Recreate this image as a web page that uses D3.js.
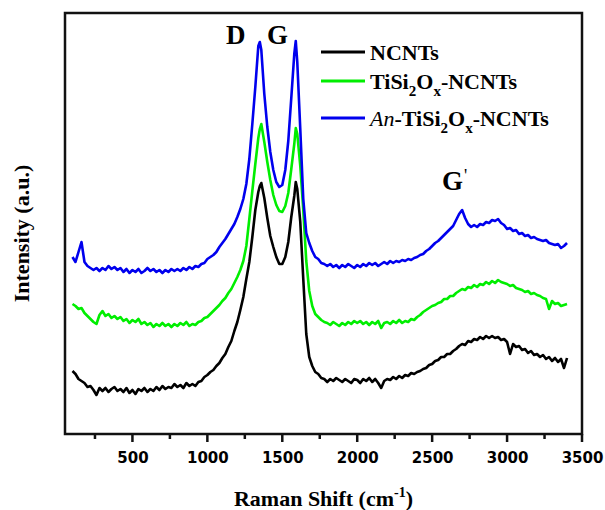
<!DOCTYPE html>
<html>
<head>
<meta charset="utf-8">
<script src="https://cdn.jsdelivr.net/npm/d3@7/dist/d3.min.js"></script>
<style>
  body { margin: 0; background: #fff; }
</style>
</head>
<body>
<svg id="chart" width="605" height="510"></svg>
<script>
// Raman shift (cm-1), shared by the three spectra
const shift = [100,120,140,160,180, 200,220,240,260,280,
  300,320,340,360,380, 400,420,440,460,480,
  500,520,540,560,580, 600,620,640,660,680,
  700,720,740,760,780, 800,820,840,860,880,
  900,920,940,960,980, 1000,1020,1040,1060,1080,
  1100,1120,1140,1160,1180, 1200,1220,1240,1260,1280,
  1300,1320,1340,1350,1360,1380, 1400,1420,1440,1460,1480,
  1500,1520,1540,1560,1580,1590, 1600,1620,1640,1660,1680,
  1700,1720,1740,1760,1780, 1800,1820,1840,1860,1880,
  1900,1920,1940,1960,1980, 2000,2020,2040,2060,2080,
  2100,2120,2140,2160,2180, 2200,2220,2240,2260,2280,
  2300,2320,2340,2360,2380, 2400,2420,2440,2460,2480,
  2500,2520,2540,2560,2580, 2600,2620,2640,2660,2680,
  2700,2720,2740,2760,2780, 2800,2820,2840,2860,2880,
  2900,2920,2940,2960,2980, 3000,3020,3040,3060,3080,
  3100,3120,3140,3160,3180, 3200,3220,3240,3260,3280,
  3300,3320,3340,3360,3380, 3400];

// intensities (a.u., curves offset as in the figure)
const ncnts = [63,60,55,53,51, 47,48,44,39,46,
  43,46,42,45,47, 43,45,42,46,41,
  44,40,45,43,46, 42,45,43,47,44,
  48,45,47,46,50, 47,49,46,51,48,
  50,48,52,53,57, 59,62,64,68,71,
  76,80,87,93,103, 112,124,137,155,172,
  197,224,242,248,251,236, 216,198,187,177,170,
  170,177,192,217,238,252, 245,212,155,100,77,
  68,62,60,56,55, 52,55,53,56,54,
  52,55,53,51,55, 54,51,55,53,56,
  52,55,51,46,53, 55,54,57,55,58,
  56,59,58,61,60, 62,63,65,66,69,
  70,73,74,77,77, 80,80,83,85,88,
  90,89,93,92,95, 94,97,95,98,96,
  98,96,97,94,95, 92,80,90,87,88,
  84,85,81,83,79, 80,77,79,75,77,
  73,76,72,75,66, 76];

const tisi = [130,128,125,126,121, 118,115,112,110,119,
  123,118,120,116,118, 115,117,113,115,111,
  114,112,115,110,112, 109,111,107,110,108,
  111,108,110,107,110, 108,111,109,112,108,
  110,109,112,113,116, 117,120,123,126,129,
  133,136,141,145,151, 157,164,173,188,215,
  243,270,296,305,310,292, 272,254,239,229,223,
  222,228,241,265,290,306, 300,268,224,173,143,
  128,120,117,114,112, 111,109,112,110,108,
  111,109,112,110,113, 111,113,110,112,109,
  112,110,113,106,111, 112,110,113,111,114,
  111,113,112,115,114, 117,119,122,124,126,
  128,129,131,132,135, 135,138,138,141,143,
  145,144,147,146,149, 147,150,149,152,150,
  153,151,154,152,151, 150,148,149,146,145,
  144,142,143,140,141, 139,138,136,135,125,
  133,130,131,128,129, 130];

const anTisi = [177,172,182,192,172, 168,166,164,166,163,
  166,164,168,165,167, 164,166,162,165,161,
  164,162,165,161,163, 166,163,165,162,164,
  161,164,162,165,163, 165,163,166,164,167,
  165,168,167,170,171, 175,177,179,182,187,
  191,195,200,205,210, 217,225,235,250,275,
  310,347,388,392,384,340, 307,282,264,252,247,
  249,264,293,336,380,393, 372,305,235,201,191,
  183,177,175,171,170, 168,170,167,169,166,
  169,167,170,168,166, 169,167,170,168,171,
  169,171,168,170,172, 170,173,171,173,172,
  174,173,175,174,176, 177,179,180,183,185,
  188,191,193,196,199, 202,205,208,214,220,
  224,216,210,207,209, 207,210,209,212,211,
  214,213,215,211,209, 205,206,203,204,200,
  201,198,199,196,197, 195,194,193,194,191,
  190,189,190,186,188, 191];

const xTicks = [500,1000,1500,2000,2500,3000,3500];
const xMinor = [250,750,1250,1750,2250,2750,3250];

const series = [
  {name: "NCNTs", values: ncnts, color: "#000000"},
  {name: "TiSi2Ox-NCNTs", values: tisi, color: "#00ee00"},
  {name: "An-TiSi2Ox-NCNTs", values: anTisi, color: "#0000ee"}
];

const serif = "'Liberation Serif','Times New Roman',serif";
const sans = "'DejaVu Sans',Arial,sans-serif";

const svg = d3.select("#chart");
const pLeft = 65, pRight = 582, pTop = 13, pBottom = 434;

const x = d3.scaleLinear().domain([50, 3500]).range([pLeft, pRight]);
const y = d3.scaleLinear().domain([0, 421]).range([pBottom, pTop]);

// frame first, curves go on top of it
svg.append("rect")
  .attr("x", pLeft).attr("y", pTop)
  .attr("width", pRight - pLeft).attr("height", pBottom - pTop)
  .style("fill", "none")
  .style("stroke", "#111")
  .style("stroke-width", "2.5px");

// spectra
const specLine = d3.line()
  .x((d, i) => x(shift[i]))
  .y(d => y(d));

svg.selectAll(".spec")
  .data(series)
  .enter()
  .append("path")
  .attr("class", "spec")
  .attr("d", d => specLine(d.values))
  .attr("fill", "none")
  .attr("stroke", d => d.color)
  .attr("stroke-width", 2.6)
  .attr("stroke-linejoin", "round");

// bottom axis: labels from d3, tick marks as plain lines
const gx = svg.append("g")
  .attr("transform", `translate(0,${pBottom})`)
  .call(d3.axisBottom(x).tickValues(xTicks).tickSize(0).tickFormat(d3.format("d")));
gx.select(".domain").remove();
gx.selectAll("text")
  .attr("y", 29).attr("dy", 0)
  .style("font-family", sans)
  .style("font-weight", "bold")
  .style("font-size", "15px")
  .attr("fill", "black");

const ticks = xTicks.map(v => ({v, len: 8})).concat(xMinor.map(v => ({v, len: 5})));
svg.selectAll(".tk")
  .data(ticks)
  .enter()
  .append("line")
  .attr("x1", d => x(d.v)).attr("x2", d => x(d.v))
  .attr("y1", pBottom).attr("y2", d => pBottom + d.len)
  .style("stroke", "#111")
  .style("stroke-width", "2.5px");

// axis titles
const xt = svg.append("text")
  .attr("x", (pLeft + pRight) / 2).attr("y", 506)
  .attr("text-anchor", "middle")
  .style("font-family", serif).style("font-weight", "bold").style("font-size", "22px");
xt.append("tspan").text("Raman Shift (cm");
xt.append("tspan").attr("dy", -9).style("font-size", "14px").text("-1");
xt.append("tspan").attr("dy", 9).text(")");

svg.append("text")
  .attr("transform", `translate(29,${(pTop + pBottom) / 2 + 10}) rotate(-90)`)
  .attr("text-anchor", "middle")
  .style("font-family", serif).style("font-weight", "bold").style("font-size", "22px")
  .text("Intensity (a.u.)");

// peak labels
const peakLabels = [
  {t: "D", x: 226, y: 44},
  {t: "G", x: 267, y: 44},
  {t: "G", x: 442, y: 190}
];
svg.selectAll(".peak")
  .data(peakLabels)
  .enter()
  .append("text")
  .attr("x", d => d.x).attr("y", d => d.y)
  .style("font-family", serif).style("font-weight", "bold").style("font-size", "27px")
  .text(d => d.t);
svg.append("text")
  .attr("x", 464).attr("y", 182)
  .style("font-family", serif).style("font-size", "18px")
  .text("'");

// legend
const legY = [52, 81, 118];
const leg = svg.selectAll(".leg")
  .data(series)
  .enter()
  .append("g")
  .attr("transform", (d, i) => `translate(321,${legY[i]})`);
leg.append("line")
  .attr("x1", 0).attr("x2", 44)
  .attr("stroke", d => d.color)
  .attr("stroke-width", 2.8);
const lt = leg.append("text")
  .attr("x", 49).attr("y", 8)
  .style("font-family", serif).style("font-weight", "bold").style("font-size", "22px");
lt.each(function(d) {
  const t = d3.select(this);
  if (d.name === "NCNTs") { t.text("NCNTs"); return; }
  if (d.name.startsWith("An-")) {
    t.append("tspan").style("font-style", "italic").style("font-weight", "normal").text("An");
    t.append("tspan").text("-");
  }
  t.append("tspan").text("TiSi");
  t.append("tspan").attr("dy", 7).style("font-size", "15px").text("2");
  t.append("tspan").attr("dy", -7).text("O");
  t.append("tspan").attr("dy", 7).style("font-size", "15px").text("x");
  t.append("tspan").attr("dy", -7).text("-NCNTs");
});
</script>
</body>
</html>
